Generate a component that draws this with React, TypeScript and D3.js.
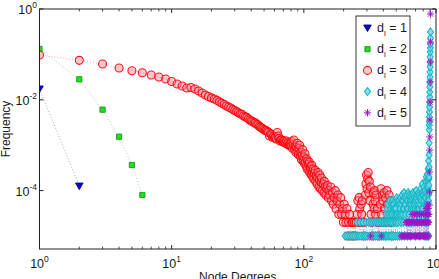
import React from "react";
import * as d3 from "d3";

type Pt = [number, number];

const WIDTH = 439;
const HEIGHT = 279;
const PLOT = { left: 39.5, right: 436, top: 9, bottom: 249 };

// axis ranges and tick positions
const X_DOMAIN: [number, number] = [1, 1000];
const Y_DOMAIN: [number, number] = [5.17e-6, 1];
const X_MAJOR = [1, 10, 100, 1000];
const X_EXP = ["0", "1", "2", "3"];
const Y_MAJOR = [1, 1e-2, 1e-4];
const Y_EXP = ["0", "-2", "-4"];

// d_l = 1
const pointsL1: Pt[] = [[1, 0.0173], [2, 1.26e-4]];

// d_l = 2
const pointsL2: Pt[] = [
  [1, 0.1315], [2, 0.0283], [3, 0.00605], [4, 0.00154], [5, 3.66e-4], [6, 8.0e-5],
];

// d_l = 3 : smooth head
const pointsL3Head: Pt[] = [
  [1, 0.097], [2, 0.074], [3, 0.0615], [4, 0.05], [5, 0.0437], [6, 0.0395], [7, 0.0352],
  [8, 0.0318], [9, 0.0287], [10, 0.0253], [11, 0.0223], [12, 0.0201], [13, 0.0182],
  [14, 0.0187], [15, 0.0173], [16, 0.0156], [17, 0.0141], [18, 0.0128], [19, 0.0118],
  [20, 0.011], [21, 0.0104], [22, 0.0097], [23, 0.009], [24, 0.0084], [25, 0.0079],
  [26, 0.0073], [27, 0.0069], [28, 0.0066], [29, 0.0061], [30, 0.0058], [31, 0.0055],
  [32, 0.0052], [33, 0.0049], [34, 0.0048], [35, 0.0044], [36, 0.0042], [37, 0.0041],
  [38, 0.0038], [39, 0.0036], [40, 0.0034], [41, 0.0033], [42, 0.0031], [43, 0.0031],
  [44, 0.0029], [45, 0.0028], [46, 0.0026], [47, 0.0025], [48, 0.0024], [49, 0.0023],
  [50, 0.0022], [51, 0.0021], [52, 0.0021], [53, 0.002], [54, 0.0019], [55, 0.0016],
  [56, 0.0018], [57, 0.0017], [58, 0.0015], [59, 0.0016], [60, 0.00144], [61, 0.0015],
  [62, 0.00137], [63, 0.0019], [64, 0.0016], [65, 0.0014], [66, 0.00124], [67, 0.0013],
  [68, 0.0013], [69, 0.0012], [70, 0.00118], [71, 0.00125], [72, 0.00113], [73, 0.0011],
  [74, 0.00124], [75, 0.00105], [76, 0.00113], [77, 0.001], [78, 0.00101], [79, 0.00108],
];

// d_l = 3 : noisy body
const pointsL3Body: Pt[] = [
  [80, 96e-5], [81, 120e-5], [82, 85e-5], [83, 105e-5], [84, 130e-5], [85, 80e-5],
  [86, 95e-5], [87, 70e-5], [88, 90e-5], [89, 110e-5], [90, 75e-5], [91, 62e-5],
  [92, 85e-5], [93, 100e-5], [94, 58e-5], [95, 70e-5], [96, 48e-5], [97, 60e-5],
  [98, 80e-5], [99, 45e-5], [100, 55e-5], [101, 40e-5], [102, 65e-5], [103, 42e-5],
  [104, 35e-5], [105, 50e-5], [106, 30e-5], [107, 45e-5], [108, 38e-5], [109, 28e-5],
  [110, 42e-5], [111, 25e-5], [112, 34e-5], [113, 30e-5], [114, 22e-5], [115, 36e-5],
  [116, 26e-5], [117, 20e-5], [118, 30e-5], [119, 18e-5], [120, 24e-5], [122, 28e-5],
  [123, 16e-5], [124, 21e-5], [126, 14e-5], [127, 19e-5], [128, 25e-5], [130, 12e-5],
  [131, 17e-5], [132, 22e-5], [134, 11e-5], [135, 15e-5], [136, 19e-5], [138, 10e-5],
  [140, 14e-5], [142, 9e-5], [143, 16e-5], [145, 12e-5], [147, 8e-5], [149, 11e-5],
  [151, 13e-5], [153, 7e-5], [155, 10e-5], [157, 8e-5], [160, 12e-5], [162, 6e-5],
  [165, 9e-5], [167, 5e-5], [170, 7e-5], [173, 10e-5], [175, 4e-5], [178, 6e-5],
  [181, 8e-5], [184, 3e-5], [187, 5e-5], [190, 7e-5], [193, 3e-5], [196, 4e-5],
  [199, 2e-5], [202, 5e-5], [205, 3e-5], [208, 2e-5], [212, 4e-5], [215, 1e-5],
  [218, 2e-5], [222, 3e-5], [226, 1e-5], [230, 2e-5],
];

// d_l = 3 : sparse tail
const pointsL3Tail: Pt[] = [
  [233, 2e-5], [237, 1e-5], [241, 2e-5], [245, 1e-5], [249, 2e-5], [253, 3e-5],
  [256, 6e-5], [259, 2e-5], [262, 7e-5], [265, 4e-5], [268, 2e-5], [271, 5e-5],
  [274, 3e-5], [277, 6e-5], [280, 2e-5], [284, 1e-5], [288, 2e-5], [292, 8e-5],
  [295, 14e-5], [298, 22e-5], [301, 11e-5], [304, 18e-5], [307, 25e-5], [310, 9e-5],
  [313, 16e-5], [316, 6e-5], [319, 12e-5], [322, 3e-5], [326, 2e-5], [330, 1e-5],
  [334, 5e-5], [337, 9e-5], [340, 4e-5], [343, 10e-5], [346, 6e-5], [349, 3e-5],
  [352, 8e-5], [356, 2e-5], [360, 4e-5], [364, 2e-5], [368, 1e-5], [372, 2e-5],
  [376, 2e-5], [380, 5e-5], [384, 11e-5], [388, 3e-5], [392, 8e-5], [396, 6e-5],
  [400, 2e-5], [405, 9e-5], [410, 4e-5], [415, 7e-5], [420, 2e-5], [425, 10e-5],
  [430, 5e-5], [436, 3e-5], [442, 8e-5], [448, 2e-5], [454, 6e-5], [460, 2e-5],
  [466, 1e-5],
];

// d_l = 4 : floor rows
const pointsL4Rows: Pt[] = [
  [205, 1e-5], [214, 1e-5], [224, 1e-5], [233, 1e-5], [243, 1e-5], [252, 2e-5],
  [254, 1e-5], [262, 1e-5], [266, 2e-5], [271, 1e-5], [280, 2e-5], [283, 1e-5],
  [292, 1e-5], [296, 2e-5], [301, 1e-5], [310, 2e-5], [313, 1e-5], [323, 2e-5],
  [326, 1e-5], [335, 2e-5], [338, 1e-5], [347, 2e-5], [349, 1e-5], [359, 2e-5],
  [361, 1e-5], [371, 2e-5], [374, 1e-5], [383, 2e-5], [386, 1e-5], [396, 2e-5],
  [399, 1e-5], [408, 2e-5], [412, 1e-5],
];

// d_l = 4 : rising band
const pointsL4Rise: Pt[] = [
  [415, 1e-5], [418, 3e-5], [421, 2e-5], [424, 1e-5], [427, 4e-5], [430, 2e-5],
  [433, 5e-5], [436, 1e-5], [440, 3e-5], [443, 2e-5], [446, 6e-5], [449, 1e-5],
  [452, 4e-5], [455, 2e-5], [458, 5e-5], [461, 1e-5], [464, 3e-5], [467, 6e-5],
  [470, 2e-5], [474, 4e-5], [477, 1e-5], [480, 5e-5], [483, 3e-5], [487, 2e-5],
  [490, 6e-5], [494, 1e-5], [497, 4e-5], [501, 2e-5], [504, 7e-5], [508, 3e-5],
  [511, 1e-5], [515, 5e-5], [518, 2e-5], [522, 6e-5], [526, 3e-5], [530, 1e-5],
  [534, 4e-5], [538, 7e-5], [542, 2e-5], [546, 5e-5], [550, 1e-5], [554, 8e-5],
  [558, 3e-5], [562, 6e-5], [566, 2e-5], [570, 4e-5], [574, 9e-5], [578, 1e-5],
  [582, 5e-5], [586, 3e-5], [590, 7e-5], [595, 2e-5], [599, 8e-5], [603, 4e-5],
  [608, 1e-5], [612, 6e-5], [616, 9e-5], [621, 3e-5], [625, 2e-5], [630, 5e-5],
  [635, 7e-5], [640, 1e-5], [645, 4e-5], [650, 8e-5], [655, 2e-5], [660, 6e-5],
  [665, 3e-5], [670, 9e-5], [675, 5e-5], [680, 2e-5], [686, 7e-5], [691, 4e-5],
  [697, 1e-5], [702, 6e-5], [708, 10e-5], [713, 3e-5], [719, 8e-5], [724, 2e-5],
  [730, 5e-5], [736, 9e-5], [742, 4e-5], [748, 7e-5], [753, 1e-5], [759, 3e-5],
  [765, 11e-5], [771, 6e-5], [777, 2e-5], [783, 9e-5], [789, 14e-5], [795, 4e-5],
  [801, 8e-5], [807, 12e-5], [813, 1e-5], [819, 5e-5], [825, 10e-5], [829, 2e-5],
  [832, 7e-5], [835, 16e-5], [837, 1e-5], [840, 3e-5], [843, 20e-5], [846, 9e-5],
  [849, 2e-5], [851, 13e-5], [853, 1e-5], [856, 5e-5], [859, 23e-5], [862, 6e-5],
  [865, 17e-5], [867, 1e-5], [869, 11e-5], [871, 3e-5], [873, 30e-5], [875, 2e-5],
  [877, 8e-5], [879, 45e-5], [881, 1e-5], [883, 18e-5],
];

// d_l = 4 : in-between degrees of the rising band
const pointsL4Mid: Pt[] = [
  [456, 3e-5], [472, 5e-5], [485, 4e-5], [499, 3e-5], [512, 6e-5], [528, 5e-5],
  [540, 3e-5], [552, 6e-5], [564, 4e-5], [576, 7e-5], [588, 5e-5], [601, 6e-5],
  [614, 4e-5], [627, 8e-5], [638, 6e-5], [648, 5e-5], [658, 7e-5], [668, 4e-5],
  [678, 8e-5], [688, 6e-5], [699, 5e-5], [711, 7e-5], [721, 4e-5], [733, 6e-5],
  [745, 8e-5], [757, 5e-5], [768, 7e-5], [780, 4e-5], [792, 8e-5], [804, 6e-5],
  [816, 9e-5], [822, 3e-5], [827, 7e-5], [844, 5e-5], [855, 8e-5], [864, 4e-5],
  [872, 12e-5], [878, 6e-5], [882, 9e-5],
];

// d_l = 4 : top column
const pointsL4Top: Pt[] = [
  [884, 1.33e-4], [885, 2.0e-4], [886, 3.3e-4], [887, 6.1e-4], [888, 1.12e-3],
  [889, 2.2e-3], [890, 2.8e-3], [891, 3.3e-3], [892, 4.2e-3], [893, 5.4e-3],
  [894, 6.9e-3], [895, 8.9e-3], [896, 1.15e-2], [897, 1.49e-2], [898, 1.91e-2],
  [899, 2.47e-2], [900, 3.18e-2], [901, 4.1e-2], [902, 5.28e-2], [903, 6.8e-2],
  [904, 8.77e-2], [905, 0.113], [906, 0.138], [907, 0.17], [908, 0.23], [909, 0.311],
];

// d_l = 5 : floor rows
const pointsL5Rows: Pt[] = [
  [321, 1e-5], [386, 1e-5], [545, 1e-5], [557, 1e-5], [569, 1e-5], [581, 1e-5],
  [593, 1e-5], [596, 2e-5], [605, 1e-5], [608, 2e-5], [617, 1e-5], [620, 2e-5],
  [629, 1e-5], [632, 2e-5], [641, 1e-5], [644, 2e-5], [653, 1e-5], [656, 2e-5],
  [661, 3e-5], [667, 1e-5], [670, 2e-5], [681, 1e-5], [684, 2e-5], [690, 3e-5],
  [695, 1e-5], [698, 2e-5], [709, 1e-5], [712, 2e-5], [719, 3e-5], [723, 1e-5],
  [726, 2e-5], [737, 1e-5], [740, 2e-5], [747, 3e-5], [751, 1e-5], [754, 2e-5],
  [765, 1e-5], [768, 2e-5], [775, 3e-5], [779, 1e-5], [782, 2e-5], [793, 1e-5],
  [796, 2e-5], [803, 3e-5], [807, 1e-5], [810, 2e-5], [821, 1e-5], [824, 2e-5],
  [831, 3e-5], [835, 1e-5], [838, 2e-5], [842, 4e-5], [849, 1e-5], [852, 2e-5],
  [857, 3e-5], [863, 1e-5], [866, 2e-5], [868, 5e-5], [871, 3e-5], [874, 4e-5],
  [877, 1e-5], [880, 2e-5], [884, 3e-5],
];

// d_l = 5 : top column
const pointsL5Top: Pt[] = [
  [890, 4.8e-5], [892, 9.3e-5], [894, 2.57e-4], [896, 7.8e-4], [898, 1.52e-3],
  [900, 3.59e-3], [902, 8.9e-3], [904, 2.47e-2], [906, 6.8e-2], [908, 0.1876],
  [909, 0.776],
];

const LEGEND = ["1", "2", "3", "4", "5"];

type Kind = "tri" | "sq" | "circ" | "dia" | "ast";

const STYLE: Record<
  Kind,
  { fill: string; stroke: string; fillOpacity?: number; strokeOpacity?: number; width: number; line: string }
> = {
  tri: { fill: "#0d0dbf", stroke: "#0000a0", width: 0.9, line: "#8d95c8" },
  sq: { fill: "#22dd22", stroke: "#0e9a0e", width: 0.9, line: "#8fc88f" },
  circ: { fill: "#f4829c", stroke: "#ff0000", fillOpacity: 0.45, strokeOpacity: 0.9, width: 1.1, line: "#e8909c" },
  dia: { fill: "#86cdf0", stroke: "#0fbcc4", fillOpacity: 0.8, width: 1.1, line: "#7ccbd8" },
  ast: { fill: "none", stroke: "#9d14c8", width: 1, line: "#c58ad8" },
};

const SHAPES: Record<Kind, string> = {
  tri: "M-3.8,-3L3.8,-3L0,3.6Z",
  sq: "M-2.6,-2.6H2.6V2.6H-2.6Z",
  circ: "M4,0A4,4 0 1,1 -4,0A4,4 0 1,1 4,0Z",
  dia: "M0,-4L3,0L0,4L-3,0Z",
  ast: "M0,-3.6V3.6M-3.6,0H3.6M-2.6,-2.6L2.6,2.6M-2.6,2.6L2.6,-2.6",
};

function Marker({ kind, x, y }: { kind: Kind; x: number; y: number }) {
  const s = STYLE[kind];
  return (
    <path
      d={SHAPES[kind]}
      transform={`translate(${x},${y})`}
      fill={s.fill}
      fillOpacity={s.fillOpacity ?? 1}
      stroke={s.stroke}
      strokeOpacity={s.strokeOpacity ?? 1}
      strokeWidth={s.width}
    />
  );
}

export default function App() {
  const x = d3.scaleLog().domain(X_DOMAIN).range([PLOT.left, PLOT.right]);
  const y = d3.scaleLog().domain(Y_DOMAIN).range([PLOT.bottom, PLOT.top]);

  const series: { kind: Kind; pts: Pt[] }[] = [
    { kind: "tri", pts: pointsL1 },
    { kind: "sq", pts: pointsL2 },
    { kind: "circ", pts: [...pointsL3Head, ...pointsL3Body, ...pointsL3Tail] },
    {
      kind: "dia",
      pts: [...pointsL4Rows, ...pointsL4Rise, ...pointsL4Mid, ...pointsL4Top].sort((a, b) => a[0] - b[0]),
    },
    { kind: "ast", pts: [...pointsL5Rows, ...pointsL5Top].sort((a, b) => a[0] - b[0]) },
  ];

  const line = d3
    .line<Pt>()
    .x((d) => x(d[0]))
    .y((d) => y(d[1]));

  const minor: number[] = [];
  [1, 10, 100].forEach((b) => {
    for (let k = 2; k <= 9; k++) minor.push(b * k);
  });

  const font = "'Liberation Sans', Arial, Helvetica, sans-serif";
  const textColor = "#1a1a1a";

  const legendX = 356;
  const legendY = 16;
  const legendW = 54;
  const legendH = 110;
  const kinds: Kind[] = ["tri", "sq", "circ", "dia", "ast"];

  return (
    <svg width={WIDTH} height={HEIGHT} style={{ position: "absolute", left: 0, top: 0, background: "#fff" }} fontFamily={font}>
      <rect x={0} y={0} width={WIDTH} height={HEIGHT} fill="#fff" />

      <defs>
        <clipPath id="plotClip">
          <rect x={PLOT.left} y={PLOT.top - 5} width={PLOT.right - PLOT.left + 4} height={PLOT.bottom - PLOT.top + 5} />
        </clipPath>
      </defs>

      <g clipPath="url(#plotClip)">
        {series.map((s, i) => (
          <path
            key={`l${i}`}
            d={line(s.pts) ?? ""}
            fill="none"
            stroke={STYLE[s.kind].line}
            strokeWidth={0.8}
            strokeDasharray="1 2"
          />
        ))}
        {series.map((s, i) => (
          <g key={`m${i}`}>
            {s.pts.map((p, j) => (
              <Marker key={j} kind={s.kind} x={x(p[0])} y={y(p[1])} />
            ))}
          </g>
        ))}
      </g>

      {/* frame */}
      <rect
        x={PLOT.left}
        y={PLOT.top}
        width={PLOT.right - PLOT.left}
        height={PLOT.bottom - PLOT.top}
        fill="none"
        stroke="#222"
        strokeWidth={1}
      />

      {/* x ticks */}
      {X_MAJOR.map((v) => (
        <g key={`xt${v}`}>
          <line x1={x(v)} x2={x(v)} y1={PLOT.bottom} y2={PLOT.bottom - 4} stroke="#222" />
          <line x1={x(v)} x2={x(v)} y1={PLOT.top} y2={PLOT.top + 4} stroke="#222" />
        </g>
      ))}
      {minor.map((v) => (
        <g key={`xm${v}`}>
          <line x1={x(v)} x2={x(v)} y1={PLOT.bottom} y2={PLOT.bottom - 2.5} stroke="#222" strokeWidth={0.8} />
          <line x1={x(v)} x2={x(v)} y1={PLOT.top} y2={PLOT.top + 2.5} stroke="#222" strokeWidth={0.8} />
        </g>
      ))}

      {/* y ticks */}
      {Y_MAJOR.map((v) => (
        <g key={`yt${v}`}>
          <line x1={PLOT.left} x2={PLOT.left + 4} y1={y(v)} y2={y(v)} stroke="#222" />
          <line x1={PLOT.right} x2={PLOT.right - 4} y1={y(v)} y2={y(v)} stroke="#222" />
        </g>
      ))}

      {/* x tick labels */}
      {X_MAJOR.map((v, i) => (
        <text key={`xl${v}`} x={x(v)} y={268} textAnchor="middle" fontSize={12.5} fill={textColor}>
          <tspan>10</tspan>
          <tspan dy={-6} fontSize={8.5}>{X_EXP[i]}</tspan>
        </text>
      ))}

      {/* y tick labels */}
      {Y_MAJOR.map((v, i) => (
        <text key={`yl${v}`} x={37} y={y(v) + 5} textAnchor="end" fontSize={12.5} fill={textColor}>
          <tspan>10</tspan>
          <tspan dy={-6} fontSize={8.5}>{Y_EXP[i]}</tspan>
        </text>
      ))}

      {/* axis titles */}
      <text x={(PLOT.left + PLOT.right) / 2} y={281} textAnchor="middle" fontSize={12} fill={textColor}>
        Node Degrees
      </text>
      <text
        transform={`translate(9.5,${(PLOT.top + PLOT.bottom) / 2}) rotate(-90)`}
        textAnchor="middle"
        fontSize={12}
        fill={textColor}
      >
        Frequency
      </text>

      {/* legend */}
      <rect x={legendX} y={legendY} width={legendW} height={legendH} fill="#fff" stroke="#222" strokeWidth={0.9} />
      {kinds.map((k, i) => {
        const cy = legendY + 12 + i * 21.2;
        return (
          <g key={`lg${k}`}>
            <Marker kind={k} x={legendX + 11.5} y={cy} />
            <text x={legendX + 21} y={cy + 4} fontSize={12.5} fill={textColor}>
              <tspan>d</tspan>
              <tspan dy={3.5} fontSize={8}>l</tspan>
              <tspan dy={-3.5}> = {LEGEND[i]}</tspan>
            </text>
          </g>
        );
      })}
    </svg>
  );
}
